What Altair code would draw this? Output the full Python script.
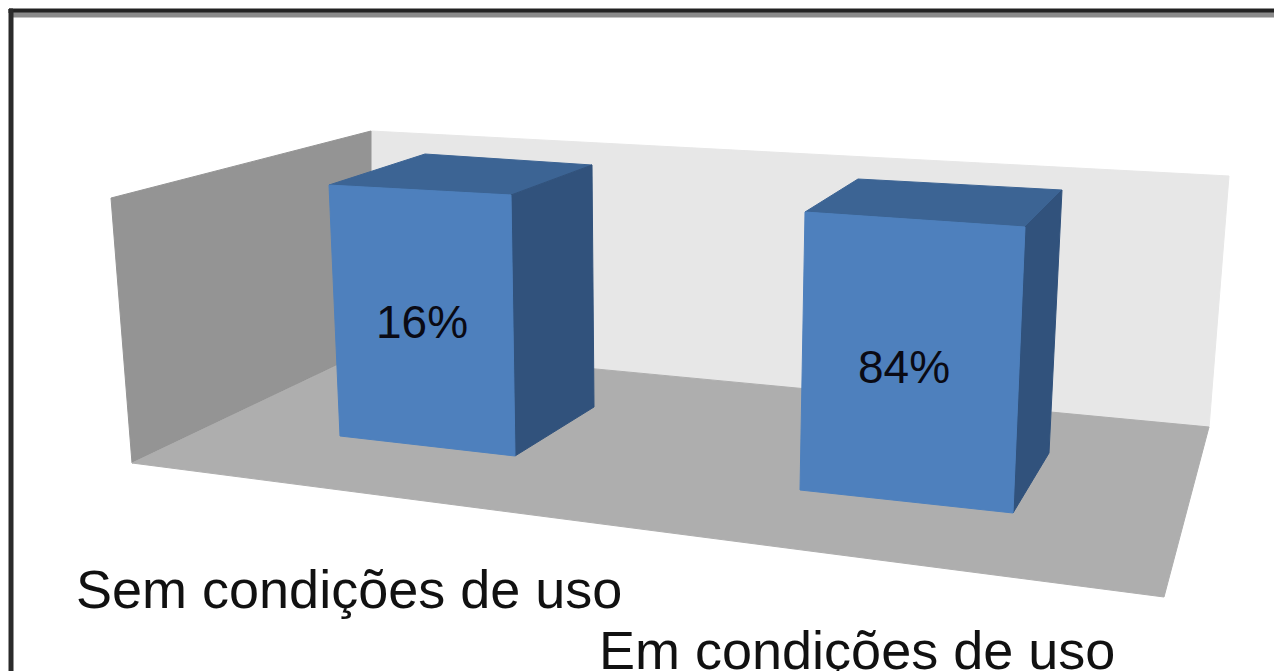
import altair as alt
import pandas as pd

# Scene: each face is a list of x values and a list of y values
faces = ["frame_top_dark", "frame_top_grey", "frame_left", "back_wall", "left_wall", "floor",
         "bar1_top", "bar1_side", "bar1_front", "bar2_top", "bar2_side", "bar2_front"]
face_x = {
    "frame_top_dark": [9, 1282, 1282, 9],
    "frame_top_grey": [13, 1282, 1282, 13],
    "frame_left": [9, 13, 13, 9],
    "back_wall": [371, 1229, 1209, 371],
    "left_wall": [111, 371, 371, 132],
    "floor": [374, 1209, 1164, 132],
    "bar1_top": [329, 425, 592, 511],
    "bar1_side": [511, 592, 594, 515],
    "bar1_front": [329, 511, 515, 340],
    "bar2_top": [805, 858, 1062, 1025],
    "bar2_side": [1025, 1062, 1049, 1013],
    "bar2_front": [805, 1025, 1013, 800],
}
face_y = {
    "frame_top_dark": [9, 9, 13, 13],
    "frame_top_grey": [13, 13, 17, 17],
    "frame_left": [9, 9, 671, 671],
    "back_wall": [131, 176, 428, 347],
    "left_wall": [198, 131, 349, 463],
    "floor": [348, 427, 597, 463],
    "bar1_top": [185, 154, 165, 195],
    "bar1_side": [195, 165, 407, 456],
    "bar1_front": [185, 195, 456, 436],
    "bar2_top": [212, 179, 190, 227],
    "bar2_side": [227, 190, 453, 513],
    "bar2_front": [212, 227, 513, 490],
}
face_colors = {
    "frame_top_dark": "#232323", "frame_top_grey": "#8a8a8a", "frame_left": "#2b2b2b",
    "back_wall": "#e7e7e7", "left_wall": "#949494", "floor": "#aeaeae",
    "bar1_top": "#3c6494", "bar1_side": "#31527c", "bar1_front": "#4e80bd",
    "bar2_top": "#3c6494", "bar2_side": "#31527c", "bar2_front": "#4e80bd",
}

# Chart text
value_labels = ["16%", "84%"]
value_x = [376, 858]
value_y = [338, 383]
category_labels = ["Sem condições de uso", "Em condições de uso"]
category_x = [76, 599]
category_y = [608, 669]

x_scale = alt.Scale(domain=[8, 1274], range=[0, 1266], nice=False, zero=False)
y_scale = alt.Scale(domain=[8, 671], range=[0, 663], nice=False, zero=False)
X = alt.X("x:Q", scale=x_scale, axis=None)
Y = alt.Y("y:Q", scale=y_scale, axis=None)

layers = []
for name in faces:
    df = pd.DataFrame({"x": face_x[name], "y": face_y[name], "i": range(len(face_x[name]))})
    layers.append(
        alt.Chart(df)
        .mark_line(interpolate="linear-closed", fill=face_colors[name], stroke=face_colors[name],
                   strokeWidth=1, clip=True)
        .encode(x=X, y=Y, order="i:Q")
    )

value_df = pd.DataFrame({"x": value_x, "y": value_y, "t": value_labels})
layers.append(
    alt.Chart(value_df)
    .mark_text(font="Liberation Sans", fontSize=46, align="left", baseline="alphabetic",
               color="#0a0a14", clip=True)
    .encode(x=X, y=Y, text="t:N")
)
cat_df = pd.DataFrame({"x": category_x, "y": category_y, "t": category_labels})
layers.append(
    alt.Chart(cat_df)
    .mark_text(font="Liberation Sans", fontSize=54, align="left", baseline="alphabetic",
               color="#111111", clip=True)
    .encode(x=X, y=Y, text="t:N")
)

chart = (
    alt.layer(*layers)
    .properties(width=1266, height=663, padding=0, background="white",
                autosize=alt.AutoSizeParams(type="none"))
    .configure_view(stroke=None)
)
chart.save("out.html", embed_options={"renderer": "svg", "actions": False})
